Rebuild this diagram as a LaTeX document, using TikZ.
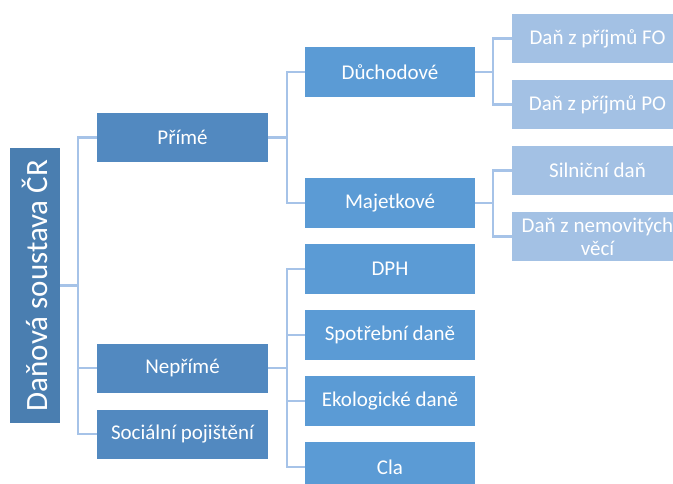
\documentclass[tikz,border=0pt]{standalone}
\usepackage{fontspec}
\setmainfont{Carlito}
\usepackage{graphicx}
\usetikzlibrary{calc}
\definecolor{rootblue}{RGB}{74,126,176}
\definecolor{firstblue}{RGB}{82,137,192}
\definecolor{secondblue}{RGB}{91,155,213}
\definecolor{thirdblue}{RGB}{163,193,228}
\definecolor{linkblue}{RGB}{166,195,232}
\tikzset{
  box/.style={rectangle, text=white, inner sep=0pt, minimum width=171pt, minimum height=49pt, align=center, font=\fontsize{21}{23}\selectfont},
  rootbox/.style={rectangle, fill=rootblue, text=white, inner sep=0pt, minimum width=50pt, minimum height=275pt, font=\fontsize{31}{33}\selectfont},
  firstbox/.style={box, fill=firstblue},
  secondbox/.style={box, fill=secondblue, minimum width=170pt, minimum height=50pt},
  thirdbox/.style={box, fill=thirdblue},
  link/.style={draw=linkblue, line width=2.5pt}
}

\begin{document}
\begin{tikzpicture}[x=1pt,y=-1pt]
\clip (0,0) rectangle (673,484);
\node[rootbox] (root) at (35,285.5) {\rotatebox{90}{Daňová soustava ČR}};
\node[firstbox] (prime) at (182.5,137.5) {Přímé};
\node[firstbox] (neprime) at (182.5,368) {Nepřímé};
\node[firstbox] (social) at (182.5,434) {Sociální pojištění};
\node[secondbox] (duch) at (390,72) {Důchodové};
\node[secondbox] (majet) at (390,203) {Majetkové};
\node[secondbox] (dph) at (390,269) {DPH};
\node[secondbox] (spotr) at (390,335) {Spotřební daně};
\node[secondbox] (eko) at (390,401) {Ekologické daně};
\node[secondbox] (cla) at (390,467) {Cla};
\node[thirdbox] (fo) at (597.5,38.5) {Daň z příjmů FO};
\node[thirdbox] (po) at (597.5,104.5) {Daň z příjmů PO};
\node[thirdbox] (siln) at (597.5,170.5) {Silniční daň};
\node[thirdbox] (nemov) at (597.5,236.5) {Daň z nemovitých\\věcí};
\draw[link] (root.east) -- ++(18,0) |- (prime.west);
\draw[link] (root.east) -- ++(18,0) |- (neprime.west);
\draw[link] (root.east) -- ++(18,0) |- (social.west);
\draw[link] (prime.east) -- ++(19,0) |- (duch.west);
\draw[link] (prime.east) -- ++(19,0) |- (majet.west);
\draw[link] (neprime.east) -- ++(19,0) |- (dph.west);
\draw[link] (neprime.east) -- ++(19,0) |- (spotr.west);
\draw[link] (neprime.east) -- ++(19,0) |- (eko.west);
\draw[link] (neprime.east) -- ++(19,0) |- (cla.west);
\draw[link] (duch.east) -- ++(18,0) |- (fo.west);
\draw[link] (duch.east) -- ++(18,0) |- (po.west);
\draw[link] (majet.east) -- ++(18,0) |- (siln.west);
\draw[link] (majet.east) -- ++(18,0) |- (nemov.west);
\end{tikzpicture}
\end{document}
